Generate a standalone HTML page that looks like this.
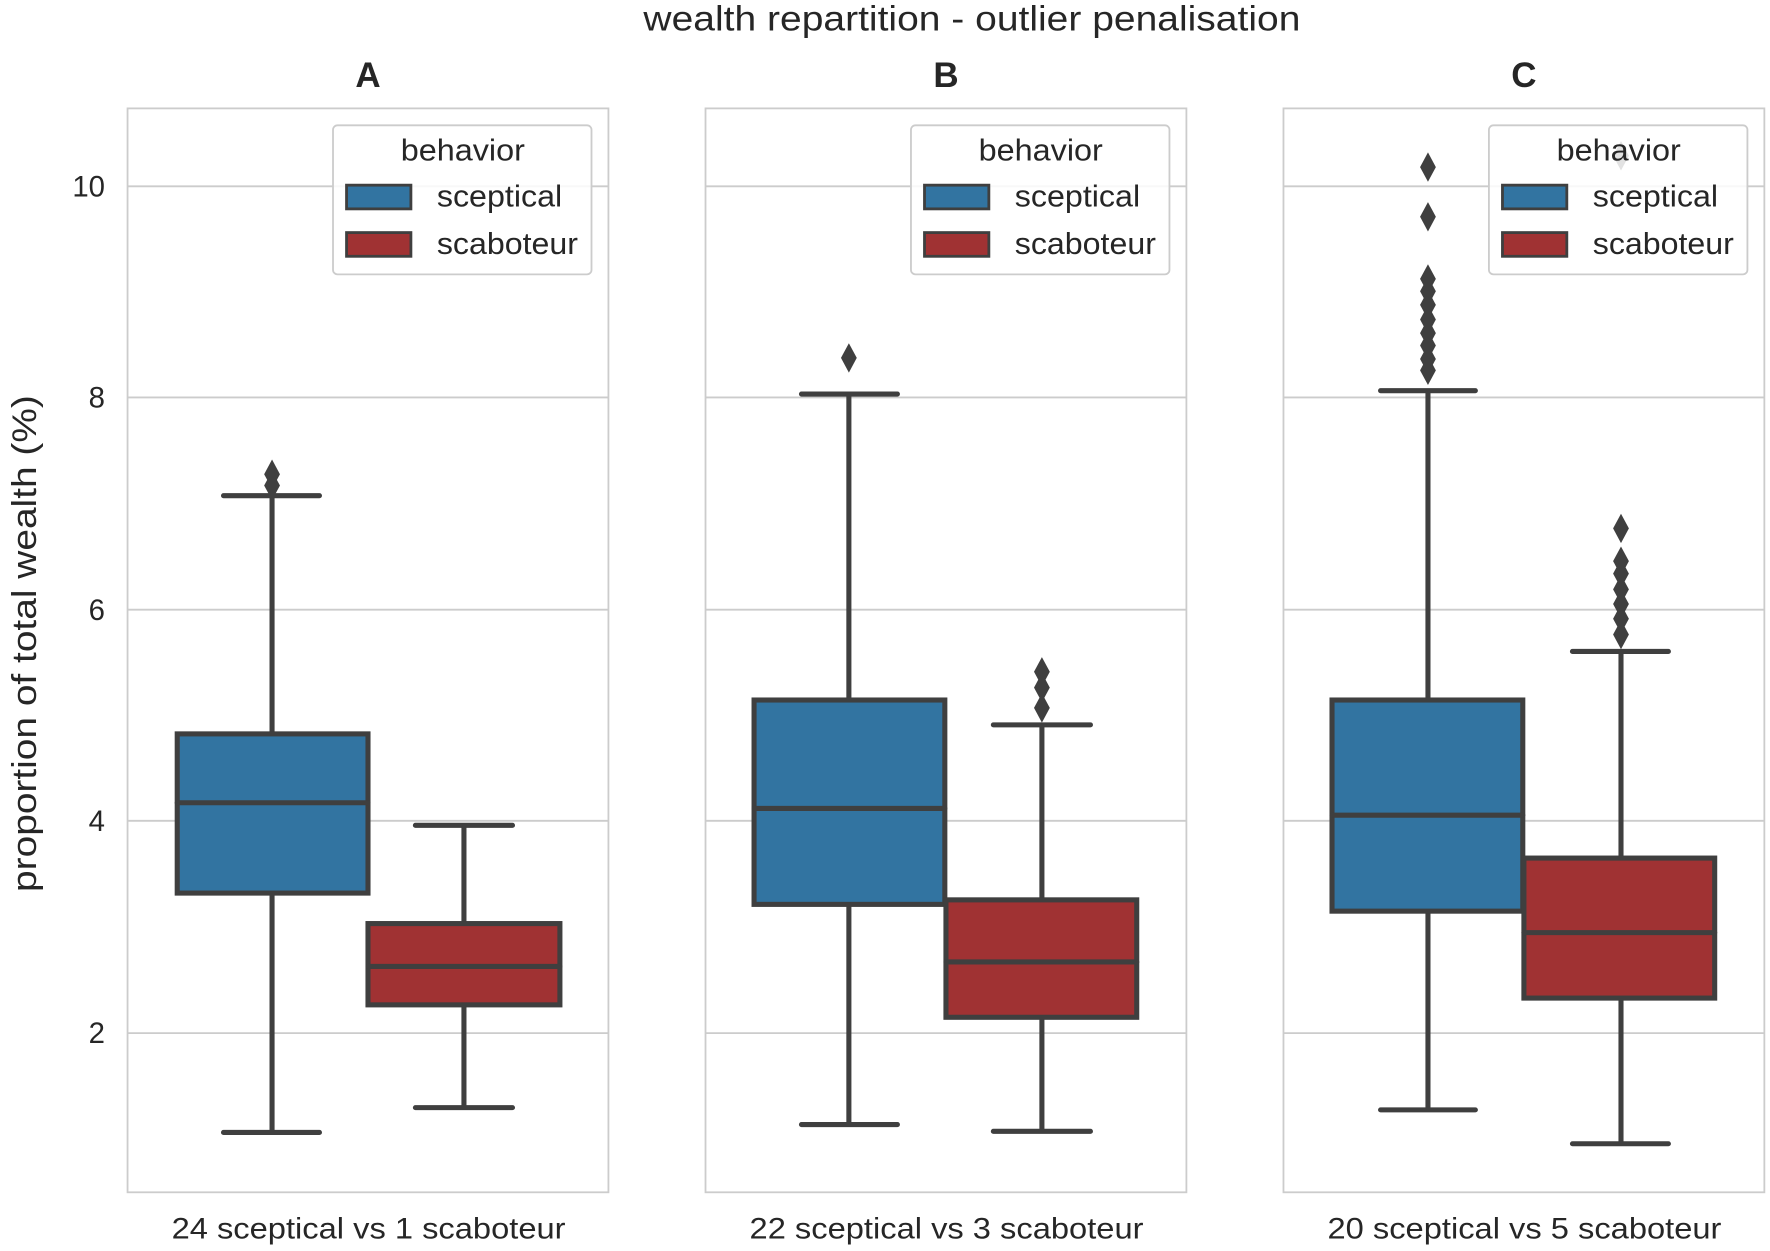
<!DOCTYPE html>
<html><head><meta charset="utf-8"><style>html,body{margin:0;padding:0;background:#fff}svg{display:block}</style></head>
<body>
<svg width="1770" height="1251" viewBox="0 0 1568 1108" preserveAspectRatio="none" xmlns="http://www.w3.org/2000/svg" font-family="Liberation Sans, DejaVu Sans, sans-serif">
<defs>
<path id="d" d="M0,-13 L7,0 L0,13 L-7,0 Z" fill="#3f3f3f"/>
</defs>
<text x="570" y="27" font-size="31" textLength="582" lengthAdjust="spacingAndGlyphs" fill="#262626">wealth repartition - outlier penalisation</text>
<g font-size="31" font-weight="bold" text-anchor="middle" fill="#262626">
<text x="326" y="77">A</text><text x="838" y="77">B</text><text x="1350" y="77">C</text>
</g>
<g font-size="26" text-anchor="end" fill="#262626">
<text x="93" y="174">10</text><text x="93" y="361">8</text><text x="93" y="549">6</text><text x="93" y="736">4</text><text x="93" y="924">2</text>
</g>
<text transform="translate(32,570) rotate(-90)" x="-220" font-size="30" textLength="440" lengthAdjust="spacingAndGlyphs" fill="#262626">proportion of total wealth (%)</text>
<g font-size="26" fill="#262626">
<text x="152" y="1097" textLength="349" lengthAdjust="spacingAndGlyphs">24 sceptical vs 1 scaboteur</text>
<text x="664" y="1097" textLength="349" lengthAdjust="spacingAndGlyphs">22 sceptical vs 3 scaboteur</text>
<text x="1176" y="1097" textLength="349" lengthAdjust="spacingAndGlyphs">20 sceptical vs 5 scaboteur</text>
</g>
<g stroke="#cccccc" stroke-width="1.6" fill="none">
<rect x="113" y="96" width="426" height="960"/>
<rect x="625" y="96" width="426" height="960"/>
<rect x="1137" y="96" width="426" height="960"/>
<path d="M113 165H539M113 352H539M113 540H539M113 727H539M113 915H539"/>
<path d="M625 165H1051M625 352H1051M625 540H1051M625 727H1051M625 915H1051"/>
<path d="M1137 165H1563M1137 352H1563M1137 540H1563M1137 727H1563M1137 915H1563"/>
</g>
<g stroke="#3f3f3f" stroke-width="4.5" stroke-linecap="round">
<path d="M241 650V439M241 791V1003M198 439H283M198 1003H283" fill="none"/>
<rect x="157" y="650" width="169" height="141" fill="#3274a1"/>
<path d="M157 711H326"/>
<path d="M411 818V731M411 890V981M368 731H454M368 981H454" fill="none"/>
<rect x="326" y="818" width="170" height="72" fill="#a03233"/>
<path d="M326 856H496"/>
<path d="M752 620V349M752 801V996M710 349H795M710 996H795" fill="none"/>
<rect x="668" y="620" width="169" height="181" fill="#3274a1"/>
<path d="M668 716H837"/>
<path d="M923 797V642M923 901V1002M880 642H966M880 1002H966" fill="none"/>
<rect x="838" y="797" width="169" height="104" fill="#a03233"/>
<path d="M838 852H1007"/>
<path d="M1265 620V346M1265 807V983M1223 346H1307M1223 983H1307" fill="none"/>
<rect x="1180" y="620" width="169" height="187" fill="#3274a1"/>
<path d="M1180 722H1349"/>
<path d="M1436 760V577M1436 884V1013M1393 577H1478M1393 1013H1478" fill="none"/>
<rect x="1350" y="760" width="169" height="124" fill="#a03233"/>
<path d="M1350 826H1519"/>
</g>
<use href="#d" x="241" y="420"/><use href="#d" x="241" y="430"/>
<use href="#d" x="752" y="317"/>
<use href="#d" x="923" y="595"/><use href="#d" x="923" y="609"/><use href="#d" x="923" y="627"/>
<use href="#d" x="1436" y="138"/>
<use href="#d" x="1265" y="148"/><use href="#d" x="1265" y="192"/>
<use href="#d" x="1265" y="247"/><use href="#d" x="1265" y="258"/><use href="#d" x="1265" y="270"/><use href="#d" x="1265" y="283"/><use href="#d" x="1265" y="295"/><use href="#d" x="1265" y="306"/><use href="#d" x="1265" y="318"/><use href="#d" x="1265" y="328"/>
<use href="#d" x="1436" y="468"/><use href="#d" x="1436" y="497"/><use href="#d" x="1436" y="508"/><use href="#d" x="1436" y="522"/><use href="#d" x="1436" y="535"/><use href="#d" x="1436" y="548"/><use href="#d" x="1436" y="562"/>
<g>
<rect x="295" y="111" width="229" height="132" rx="4" fill="#fff" fill-opacity="0.85" stroke="#cccccc" stroke-width="1.6"/>
<rect x="807" y="111" width="229" height="132" rx="4" fill="#fff" fill-opacity="0.85" stroke="#cccccc" stroke-width="1.6"/>
<rect x="1319" y="111" width="229" height="132" rx="4" fill="#fff" fill-opacity="0.85" stroke="#cccccc" stroke-width="1.6"/>
</g>
<g stroke="#3f3f3f" stroke-width="2.5">
<rect x="307" y="164" width="57" height="21" fill="#3274a1"/><rect x="307" y="206" width="57" height="21" fill="#a03233"/>
<rect x="819" y="164" width="57" height="21" fill="#3274a1"/><rect x="819" y="206" width="57" height="21" fill="#a03233"/>
<rect x="1331" y="164" width="57" height="21" fill="#3274a1"/><rect x="1331" y="206" width="57" height="21" fill="#a03233"/>
</g>
<g font-size="27" fill="#262626" lengthAdjust="spacingAndGlyphs">
<text x="355" y="142" textLength="110" lengthAdjust="spacingAndGlyphs">behavior</text><text x="387" y="183" textLength="111" lengthAdjust="spacingAndGlyphs">sceptical</text><text x="387" y="225" textLength="125" lengthAdjust="spacingAndGlyphs">scaboteur</text>
<text x="867" y="142" textLength="110" lengthAdjust="spacingAndGlyphs">behavior</text><text x="899" y="183" textLength="111" lengthAdjust="spacingAndGlyphs">sceptical</text><text x="899" y="225" textLength="125" lengthAdjust="spacingAndGlyphs">scaboteur</text>
<text x="1379" y="142" textLength="110" lengthAdjust="spacingAndGlyphs">behavior</text><text x="1411" y="183" textLength="111" lengthAdjust="spacingAndGlyphs">sceptical</text><text x="1411" y="225" textLength="125" lengthAdjust="spacingAndGlyphs">scaboteur</text>
</g>
</svg>
</body></html>
